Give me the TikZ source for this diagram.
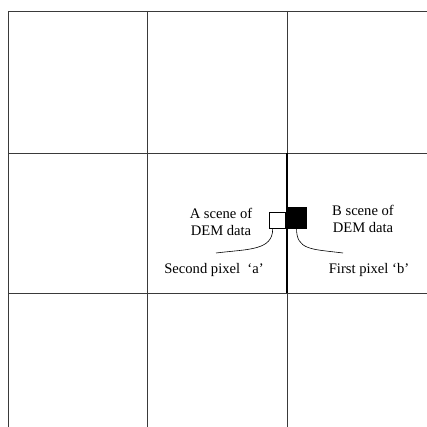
\documentclass[tikz,border=0pt]{standalone}
\usepackage{fontspec}
\setmainfont{Liberation Serif}
\usetikzlibrary{positioning,calc}
\definecolor{cGrid}{HTML}{3A3A3A}

\begin{document}
\begin{tikzpicture}[
  x=1pt, y=-1pt,
  font=\fontsize{14.6}{17.5}\selectfont,
  gridline/.style={draw=cGrid, line width=0.9pt},
  seam/.style={draw=black, line width=2.6pt},
  pixa/.style={draw=black, fill=white, line width=0.6pt, minimum width=16pt, minimum height=16pt, inner sep=0pt},
  pixb/.style={draw=black, fill=black, minimum width=20pt, minimum height=21pt, inner sep=0pt},
  lbl/.style={align=center, inner sep=1pt},
  lead/.style={draw=black, line width=0.6pt},
]
\useasboundingbox (0,0) rectangle (427,427);
% grid of DEM scenes
\foreach \gx in {8,147,287}
  \draw[gridline] (\gx,11) -- (\gx,427);
\foreach \gy in {11,153,293}
  \draw[gridline] (8,\gy) -- (427,\gy);
\draw[seam] (287,153) -- (287,293);

\node[pixa] (pa) at (277,220.5) {};
\node[pixb] (pb) at (296.5,217.5) {};
\node[lbl] (scA) at (221,222) {A scene of\\DEM data};
\node[lbl] (scB) at (363,219) {B scene of\\DEM data};
\node[lbl] (pxA) at (214,270) {Second pixel \ ‘a’};
\node[lbl] (pxB) at (369,270) {First pixel ‘b’};
\coordinate (ea) at (216,253);
\coordinate (eb) at (343,253);
\coordinate (sa) at ($(pa.south west)+(4,0)$);
\coordinate (sb) at (pb.south);

\draw[lead] (sa) .. controls ($(sa)+(0,22)$) and ($(ea)+(32,-4)$) .. (ea);
\draw[lead] (sb) .. controls ($(sb)+(0,22)$) and ($(eb)+(-32,-4)$) .. (eb);
\end{tikzpicture}
\end{document}
